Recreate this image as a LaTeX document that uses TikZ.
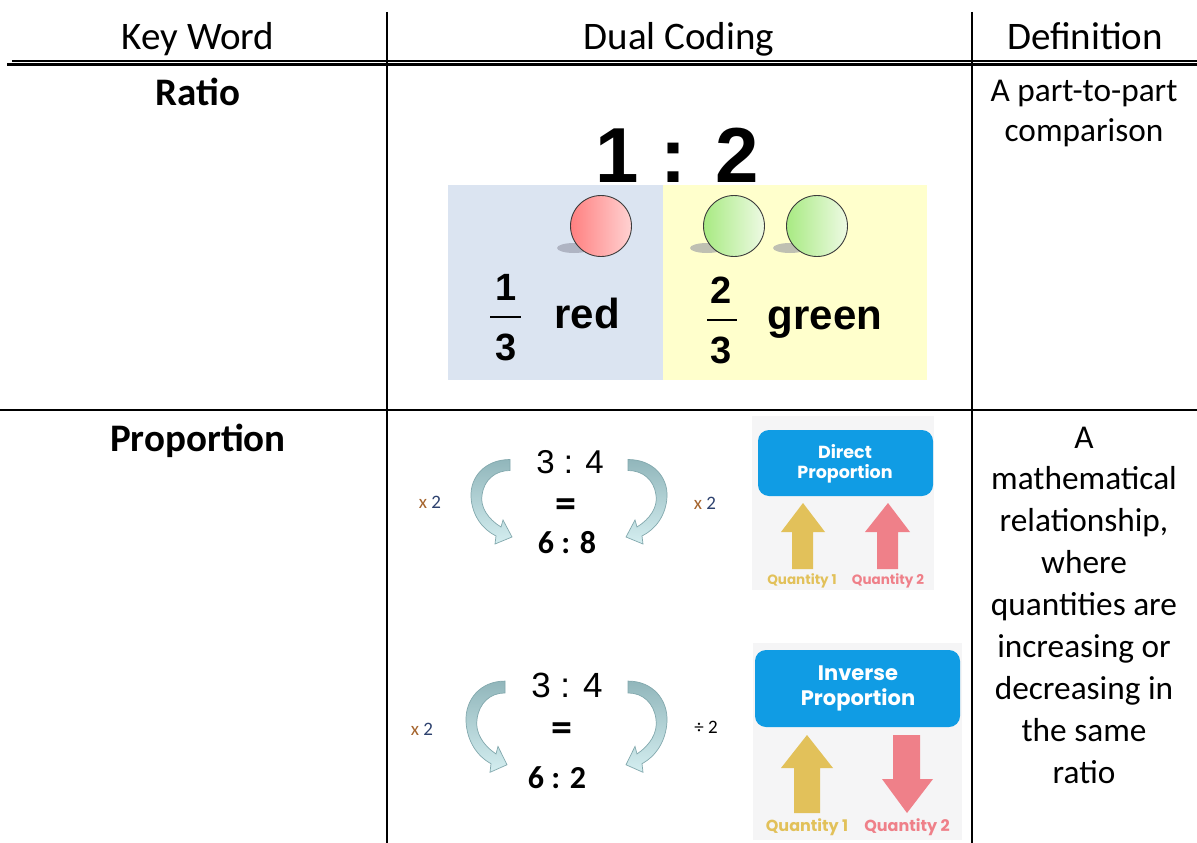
\documentclass[tikz,border=0pt]{standalone}
\usepackage{fontspec}
\setmainfont{Carlito}
\newfontfamily\arialf{Liberation Sans}
\newfontfamily\popf{Poppins}

\definecolor{cellblue}{RGB}{219,228,241}
\definecolor{cellyellow}{RGB}{255,255,204}
\definecolor{btnblue}{RGB}{16,156,228}
\definecolor{qyellow}{RGB}{226,193,90}
\definecolor{qpink}{RGB}{239,128,137}
\definecolor{panelgrey}{RGB}{245,245,246}
\definecolor{arrowdark}{RGB}{145,182,187}
\definecolor{arrowlight}{RGB}{212,238,240}
\definecolor{arrowedge}{RGB}{130,168,173}
\definecolor{redA}{RGB}{255,128,128}
\definecolor{redB}{RGB}{255,210,210}
\definecolor{greenA}{RGB}{168,234,130}
\definecolor{greenB}{RGB}{238,250,228}
\definecolor{shadowgrey}{RGB}{140,142,158}
\definecolor{timesx}{RGB}{165,100,45}
\definecolor{timestwo}{RGB}{45,65,110}

\tikzset{
  rule/.style={line width=2pt},
  header/.style={font=\fontsize{39}{47}\selectfont, anchor=base, inner sep=0pt},
  keyword/.style={font=\bfseries\fontsize{39}{47}\selectfont, anchor=base, inner sep=0pt},
  defn/.style={font=\fontsize{33.3}{42}\selectfont, anchor=base, inner sep=0pt},
  ratiobig/.style={font=\arialf\bfseries\fontsize{78}{84}\selectfont, anchor=base, inner sep=0pt},
  fracdigit/.style={font=\arialf\bfseries\fontsize{38}{40}\selectfont, anchor=base, inner sep=0pt},
  colourword/.style={font=\arialf\bfseries\fontsize{42}{46}\selectfont, anchor=base, inner sep=0pt},
  ballout/.style={draw={rgb,255:red,60;green,60;blue,60}, line width=0.9pt},
  ballshadow/.style={fill=shadowgrey, opacity=0.55},
  lightratio/.style={font=\arialf\fontsize{33}{36}\selectfont, anchor=base, inner sep=0pt},
  boldratio/.style={font=\bfseries\fontsize{32}{36}\selectfont, anchor=base, inner sep=0pt},
  equalsign/.style={font=\bfseries\fontsize{42}{44}\selectfont, inner sep=0pt},
  factor/.style={font=\fontsize{19}{21}\selectfont, inner sep=0pt},
  panel/.style={fill=panelgrey},
  button/.style={fill=btnblue, rounded corners=11pt},
  buttontext/.style={font=\popf\bfseries, text=white, inner sep=0pt},
  qlabel/.style={font=\popf\bfseries, inner sep=0pt},
  curvarrow/.pic={
    \draw[draw=arrowedge, line width=0.7pt, top color=arrowdark, bottom color=arrowlight]
      (0,-5.5) .. controls (-25,-5.5) and (-40,12) .. (-39,32)
      .. controls (-38,50) and (-28,64) .. (-14,71)
      -- (-15,79) -- (2,72) -- (-7,55) -- (-9,62)
      .. controls (-22,54) and (-30,42) .. (-28,30)
      .. controls (-26,15) and (-15,5.5) .. (0,5.5) -- cycle;
  }
}

\begin{document}
\begin{tikzpicture}[x=1pt,y=-1pt]
\useasboundingbox (0,0) rectangle (1197,843);

% table rules
\draw[rule] (387,12) -- (387,843);
\draw[rule] (972,12) -- (972,843);
\draw[rule] (0,410) -- (1197,410);
\draw[line width=1.3pt] (12,61) -- (1197,61);
\draw[line width=3pt] (7,65) -- (1197,65);

% header row
\node[header] (hkey) at (198,50) {Key Word};
\node[header] (hdual) at (679,50) {Dual Coding};
\node[header] (hdef) at (1085,50) {Definition};

% ---- Ratio row ----
\node[keyword] (kratio) at (198,105) {Ratio};
\node[defn] (dratio1) at (1084,102) {A part-to-part};
\node[defn] (dratio2) at (1084,141) {comparison};

\fill[cellblue] (448,185) rectangle (663,380);
\fill[cellyellow] (663,185) rectangle (927,380);
\node[ratiobig] (ratio12) at (677,182) {1 : 2};

\fill[ballshadow] (574,248) ellipse [x radius=17pt, y radius=5pt];
\fill[ballshadow] (707,248) ellipse [x radius=17pt, y radius=5pt];
\fill[ballshadow] (790,248) ellipse [x radius=17pt, y radius=5pt];
\draw[ballout, left color=redA, right color=redB] (601,226) circle [radius=30.5pt];
\draw[ballout, left color=greenA, right color=greenB] (734,226) circle [radius=30.5pt];
\draw[ballout, left color=greenA, right color=greenB] (817,226) circle [radius=30.5pt];

\node[fracdigit] (rednum) at (506,300) {1};
\draw[line width=2pt] (490,317) -- (521,317);
\node[fracdigit] (redden) at (506,360) {3};
\node[colourword] (redword) at (587,328) {red};

\node[fracdigit] (grnnum) at (721,303) {2};
\draw[line width=2.6pt] (707,320) -- (737,320);
\node[fracdigit] (grnden) at (721,363) {3};
\node[colourword] (grnword) at (825,329) {green};

% ---- Proportion row ----
\node[keyword] (kprop) at (198,451) {Proportion};
\foreach \w [count=\i] in {A,mathematical,{relationship,},where,quantities are,increasing or,decreasing in,the same,ratio}
  \node[defn] (dprop\i) at (1084,{448+41.9*(\i-1)}) {\w};

% direct proportion example
\node[lightratio] (d34) at (570,473) {3 : 4};
\node[equalsign] (deq) at (566,508) {=};
\node[boldratio] (d68) at (567,553) {6 : 8};
\pic at (510,465) {curvarrow};
\pic[xscale=-1] at (628,465) {curvarrow};
\node[factor] (dlx) at (430,502) {\textcolor{timesx}{x} \textcolor{timestwo}{2}};
\node[factor] (drx) at (705,503) {\textcolor{timesx}{x} \textcolor{timestwo}{2}};

% direct proportion card
\fill[panel] (752,416) rectangle (934,590);
\fill[button] (758,430) rectangle (933,496);
\node[buttontext, font=\popf\bfseries\fontsize{17.5}{20}\selectfont] (dbt1) at (845,452) {Direct};
\node[buttontext, font=\popf\bfseries\fontsize{17.5}{20}\selectfont] (dbt2) at (845,474) {Proportion};
\fill[qyellow] (803,503) -- (825,532) -- (813,532) -- (813,569) -- (792,569) -- (792,532) -- (781,532) -- cycle;
\fill[qpink] (888,503) -- (910,532) -- (898,532) -- (898,569) -- (877,569) -- (877,532) -- (865,532) -- cycle;
\node[qlabel, text=qyellow, font=\popf\bfseries\fontsize{13.5}{16}\selectfont] (dq1) at (802,581) {Quantity 1};
\node[qlabel, text=qpink, font=\popf\bfseries\fontsize{13.5}{16}\selectfont] (dq2) at (888,581) {Quantity 2};

% inverse proportion example
\node[lightratio, font=\arialf\fontsize{35}{38}\selectfont] (i34) at (567,697) {3 : 4};
\node[equalsign] (ieq) at (562,732) {=};
\node[boldratio] (i62) at (557,788) {6 : 2};
\pic[yscale=1.08] at (505,687) {curvarrow};
\pic[xscale=-1, yscale=1.08] at (628,687) {curvarrow};
\node[factor] (ilx) at (422,729) {\textcolor{timesx}{x} \textcolor{timestwo}{2}};
\node[factor] (irx) at (706,727) {÷ 2};

% inverse proportion card
\fill[panel] (753,643) rectangle (962,840);
\fill[button] (755,650) rectangle (960,727);
\node[buttontext, font=\popf\bfseries\fontsize{21}{24}\selectfont] (ibt1) at (858,673) {Inverse};
\node[buttontext, font=\popf\bfseries\fontsize{21}{24}\selectfont] (ibt2) at (858,700) {Proportion};
\fill[qyellow] (807,735) -- (833,768) -- (820,768) -- (820,813) -- (794,813) -- (794,768) -- (781,768) -- cycle;
\fill[qpink] (907,813) -- (933,779) -- (920,779) -- (920,735) -- (893,735) -- (893,779) -- (882,779) -- cycle;
\node[qlabel, text=qyellow, font=\popf\bfseries\fontsize{16}{18}\selectfont] (iq1) at (807,827) {Quantity 1};
\node[qlabel, text=qpink, font=\popf\bfseries\fontsize{16}{18}\selectfont] (iq2) at (907,827) {Quantity 2};
\end{tikzpicture}
\end{document}
